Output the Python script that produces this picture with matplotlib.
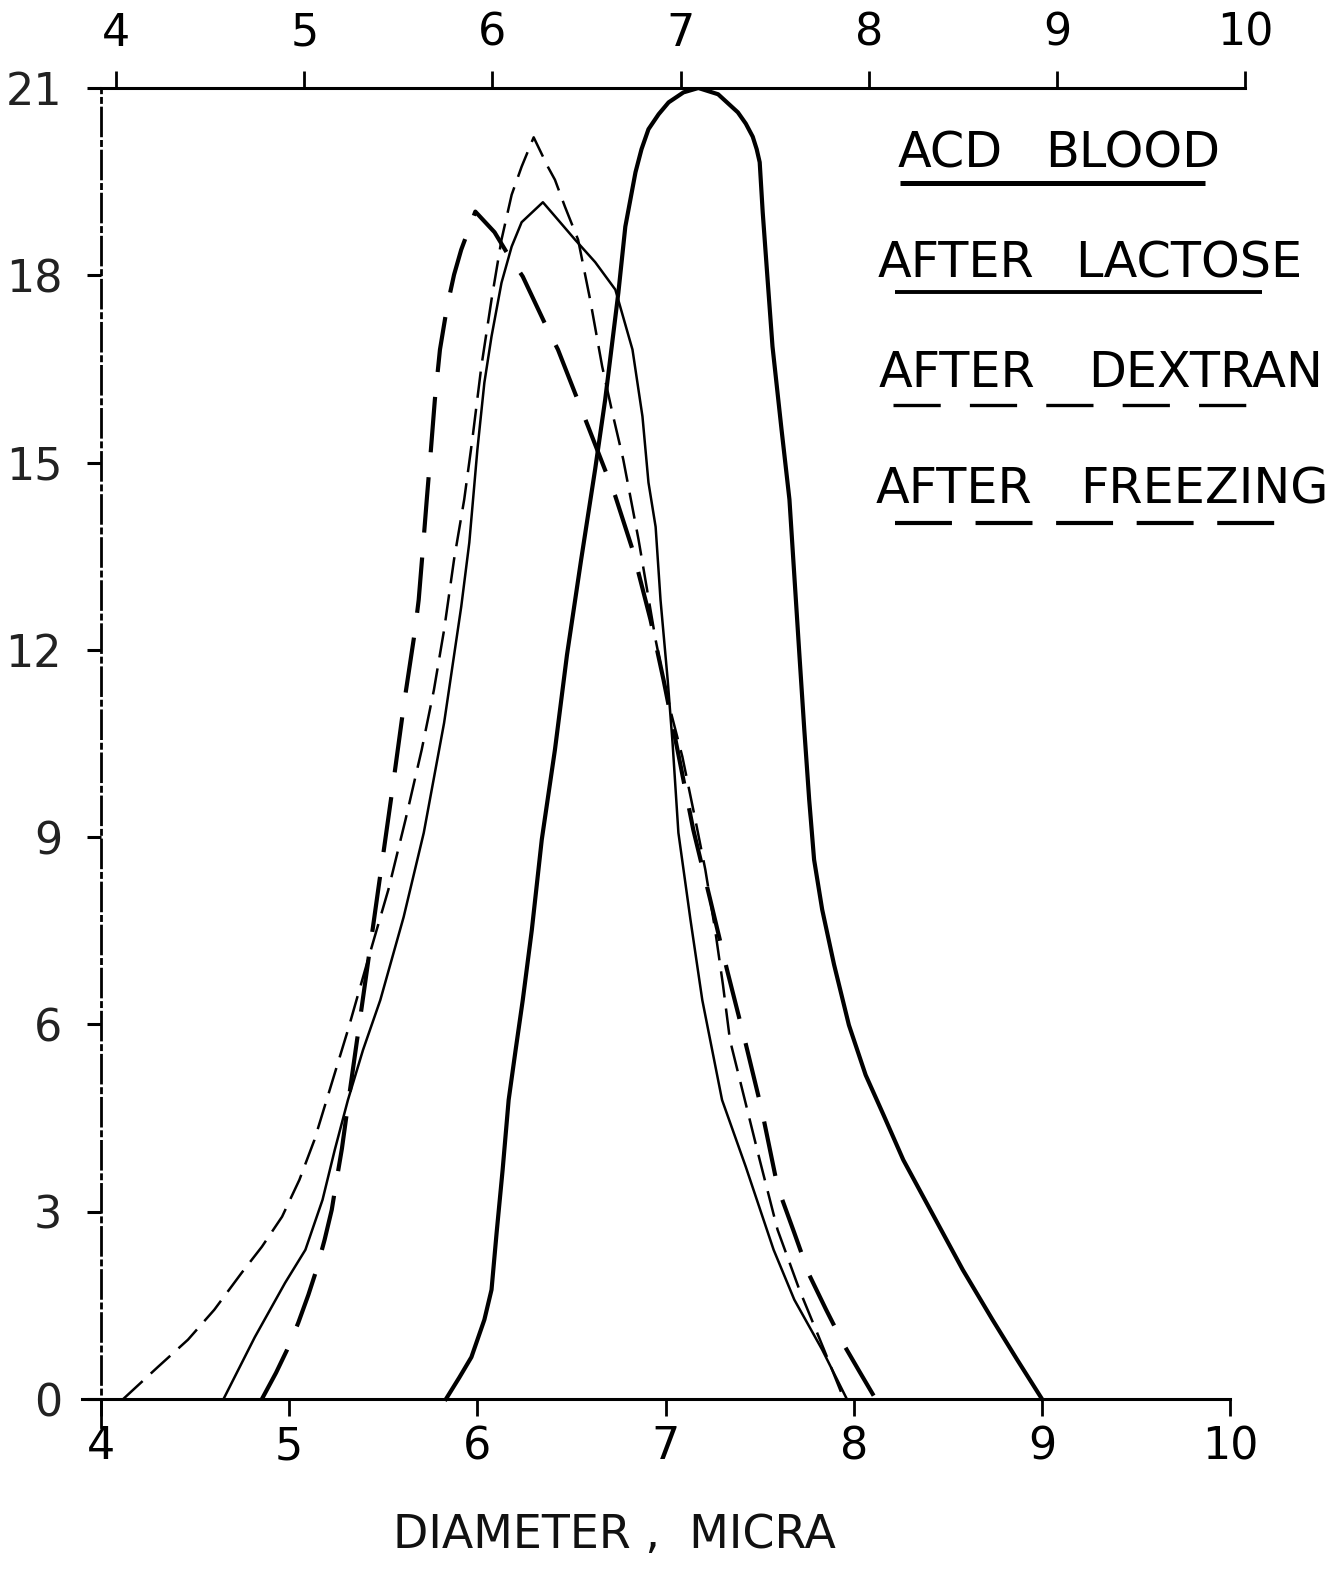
import matplotlib
matplotlib.use("Agg")
import matplotlib.pyplot as plt
from matplotlib.lines import Line2D

plt.rcParams['lines.scale_dashes'] = False
plt.rcParams['font.family'] = ['DejaVu Sans']

# ---------------- data (diameter in micra, frequency %) ----------------
acd_x = [5.833, 5.903, 5.968, 6.037, 6.075, 6.102, 6.134, 6.166, 6.203, 6.241,
         6.289, 6.342, 6.412, 6.476, 6.551, 6.626, 6.679, 6.749, 6.786, 6.840,
         6.872, 6.909, 6.963, 7.016, 7.095, 7.174, 7.279, 7.384, 7.426, 7.463,
         7.484, 7.500, 7.516, 7.542, 7.568, 7.616, 7.658, 7.711, 7.737, 7.763,
         7.789, 7.832, 7.895, 7.974, 8.063, 8.158, 8.263, 8.421, 8.579, 8.737,
         8.868, 9.000]
acd_y = [0.0, 0.34, 0.67, 1.27, 1.75, 2.66, 3.67, 4.79, 5.59, 6.39,
         7.51, 8.96, 10.40, 11.92, 13.44, 14.90, 16.01, 17.72, 18.78, 19.65,
         20.02, 20.34, 20.58, 20.77, 20.93, 21.0, 20.90, 20.61, 20.43, 20.22,
         20.02, 19.81, 19.01, 17.93, 16.86, 15.53, 14.41, 11.92, 10.72, 9.60,
         8.64, 7.84, 6.96, 5.99, 5.19, 4.55, 3.83, 2.95, 2.07, 1.27,
         0.63, 0.0]

lactose_x = [4.651, 4.817, 4.978, 5.086, 5.177, 5.242, 5.312, 5.392, 5.484, 5.608,
             5.715, 5.823, 5.914, 5.957, 6.000, 6.037, 6.075, 6.128, 6.182, 6.235,
             6.348, 6.428, 6.519, 6.626, 6.733, 6.824, 6.877, 6.909, 6.947, 6.973,
             7.011, 7.037, 7.068, 7.132, 7.195, 7.300, 7.426, 7.574, 7.684, 7.832, 7.963]
lactose_y = [0.0, 0.99, 1.86, 2.39, 3.19, 3.99, 4.79, 5.59, 6.39, 7.72,
             9.07, 10.83, 12.69, 13.72, 15.21, 16.28, 17.02, 17.88, 18.46, 18.85,
             19.17, 18.89, 18.57, 18.21, 17.77, 16.81, 15.74, 14.68, 13.97, 12.80,
             11.52, 10.51, 9.07, 7.68, 6.39, 4.79, 3.72, 2.39, 1.59, 0.79, 0.0]

dextran_x = [4.118, 4.301, 4.462, 4.602, 4.747, 4.855, 4.962, 5.054, 5.134, 5.215,
             5.312, 5.419, 5.527, 5.618, 5.704, 5.769, 5.823, 5.876, 5.930, 5.973,
             6.021, 6.075, 6.128, 6.182, 6.235, 6.299, 6.374, 6.412, 6.465, 6.535,
             6.599, 6.663, 6.717, 6.775, 6.856, 6.947, 7.011, 7.089, 7.158, 7.211,
             7.263, 7.305, 7.342, 7.421, 7.500, 7.595, 7.711, 7.842, 7.947]
dextran_y = [0.0, 0.51, 0.95, 1.43, 2.02, 2.44, 2.92, 3.51, 4.15, 4.95,
             5.91, 7.04, 8.16, 9.28, 10.40, 11.36, 12.32, 13.45, 14.41, 15.37,
             16.54, 17.61, 18.57, 19.29, 19.74, 20.21, 19.74, 19.53, 19.10, 18.57,
             17.61, 16.54, 15.80, 15.05, 13.77, 12.16, 11.20, 10.29, 9.28, 8.48,
             7.52, 6.63, 5.75, 4.79, 3.83, 2.71, 1.75, 0.79, 0.0]

freezing_x = [4.855, 4.930, 4.989, 5.048, 5.102, 5.145, 5.188, 5.226, 5.253, 5.280,
              5.323, 5.398, 5.473, 5.548, 5.613, 5.667, 5.688, 5.710, 5.731, 5.753,
              5.774, 5.801, 5.839, 5.876, 5.914, 5.989,
              6.091, 6.155, 6.241, 6.374, 6.428, 6.588, 6.733, 6.824, 6.920, 6.989,
              7.063, 7.147, 7.237, 7.326, 7.421, 7.511, 7.595, 7.684, 7.763, 7.853,
              7.947, 8.032, 8.116]
freezing_y = [0.0, 0.42, 0.79, 1.22, 1.67, 2.07, 2.55, 3.03, 3.53, 4.01,
              4.95, 6.55, 8.16, 9.76, 11.20, 12.28, 12.80, 13.61, 14.41, 15.21,
              16.01, 16.81, 17.50, 18.01, 18.41, 19.02,
              18.69, 18.37, 17.98, 17.13, 16.81, 15.58, 14.46, 13.61, 12.48, 11.52,
              10.40, 9.12, 8.00, 6.88, 5.75, 4.63, 3.40, 2.66, 1.99, 1.43,
              0.87, 0.43, 0.0]

x_ticks = [4, 5, 6, 7, 8, 9, 10]
x_labels = ['4', '5', '6', '7', '8', '9', '10']
y_ticks = [0, 3, 6, 9, 12, 15, 18, 21]
y_labels = ['0', '3', '6', '9', '12', '15', '18', '21']
series_names = ['ACD BLOOD', 'AFTER LACTOSE', 'AFTER DEXTRAN', 'AFTER FREEZING']
x_title = 'DIAMETER ,  MICRA'

# ---------------- figure ----------------
W, H = 1337, 1573
fig = plt.figure(figsize=(W / 100, H / 100), dpi=100)
ax = fig.add_axes([82.2 / W, 145.9 / H, 1166.8 / W, (1485 - 145.9) / H])

ink = 'black'
ax.plot(acd_x, acd_y, color=ink, lw=3.0, solid_joinstyle='round')
ax.plot(lactose_x, lactose_y, color=ink, lw=1.8, solid_joinstyle='round')
ax.plot(dextran_x, dextran_y, color=ink, lw=1.8, dashes=(19, 8))
ax.plot(freezing_x, freezing_y, color=ink, lw=3.0, dashes=(40, 18))

ax.set_xlim(3.9, 10.1)
ax.set_ylim(-0.45, 21)

for s in ['bottom', 'top', 'left']:
    ax.spines[s].set_color(ink)
ax.spines['right'].set_visible(False)
ax.spines['bottom'].set_position(('data', 0))
ax.spines['bottom'].set_bounds(3.9, 10.0)
ax.spines['bottom'].set_linewidth(2.2)
ax.spines['top'].set_bounds(4.0, 10.08)
ax.spines['top'].set_linewidth(2.2)
ax.spines['left'].set_position(('data', 4.0))
ax.spines['left'].set_linewidth(2.0)
ax.spines['left'].set_linestyle((0, (20, 4, 3, 4)))

ax.set_xticks(x_ticks)
ax.set_xticklabels(x_labels)
ax.tick_params(axis='x', bottom=True, top=False, labelbottom=True, labeltop=False,
               direction='out', length=12, width=2, labelsize=32, pad=7)
ax.set_yticks(y_ticks)
ax.set_yticklabels(y_labels)
ax.tick_params(axis='y', direction='out', length=10, width=2.2, labelsize=32,
               pad=18, labelcolor='#222222')

# the upper scale of the scanned original sits slightly to the right
sec = ax.secondary_xaxis('top', functions=(lambda v: v - 0.08, lambda v: v + 0.08))
sec.set_xticks(x_ticks)
sec.set_xticklabels(x_labels)
sec.spines['top'].set_visible(False)
sec.tick_params(axis='x', direction='out', length=12, width=2, labelsize=32, pad=12)

# axis title
fig.text(393 / W, 1 - 1548 / H, x_title, ha='left', va='baseline',
         fontsize=33, color='#111111')

# ---------------- legend (text with underline samples) ----------------
word_pos = [((898, 1045), 168), ((878, 1075), 277), ((879, 1088), 387), ((876, 1080), 503)]
for name, ((x1, x2), ly) in zip(series_names, word_pos):
    first, second = name.split(' ', 1)
    fig.text(x1 / W, 1 - ly / H, first, ha='left', va='baseline', fontsize=35.5, color=ink)
    fig.text(x2 / W, 1 - ly / H, second, ha='left', va='baseline', fontsize=35.5, color=ink)

def fig_line(x0, x1, y, lw, dashes=None):
    ln = Line2D([x0 / W, x1 / W], [1 - y / H, 1 - y / H], transform=fig.transFigure,
                color=ink, lw=lw, solid_capstyle='butt', dash_capstyle='butt')
    if dashes is not None:
        ln.set_dashes(dashes)
    fig.add_artist(ln)

fig_line(900, 1205, 183, 3.6)
fig_line(895, 1262, 292, 2.8)
fig_line(893, 1258, 405, 2.4, dashes=(34, 21))
fig_line(895, 1275, 523, 3.0, dashes=(41, 17))

fig.savefig('out.png', dpi=100, facecolor='white')
